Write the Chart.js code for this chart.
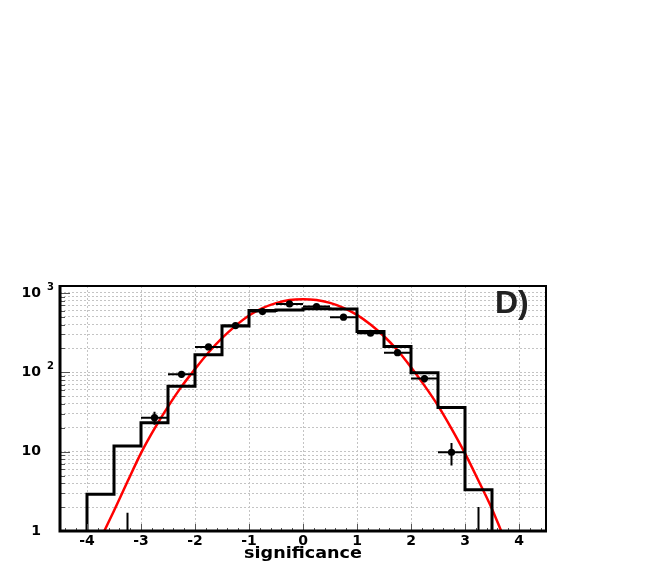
<!DOCTYPE html>
<html>
<head>
<meta charset="utf-8">
<script src="https://cdn.jsdelivr.net/npm/chart.js@4/dist/chart.umd.min.js"></script>
<style>
html, body { margin: 0; padding: 0; background: #fff; }
#wrap { width: 654px; height: 572px; }
</style>
</head>
<body>
<div id="wrap"><canvas id="c" width="654" height="572"></canvas></div>
<script>
// histogram: left bin edges + contents
const binEdges = [-4, -3.5, -3, -2.5, -2, -1.5, -1, -0.5, 0, 0.5, 1, 1.5, 2, 2.5, 3];
const binWidth = 0.5;
const histCounts = [2.9, 11.8, 23.2, 67, 166, 385, 600, 612, 635, 630, 326, 211, 99, 36, 3.3];

// data points (bin centres) with errors
const dataX = [-3.25, -2.75, -2.25, -1.75, -1.25, -0.75, -0.25, 0.25, 0.75, 1.25, 1.75, 2.25, 2.75, 3.25];
const dataY = [1, 26.8, 94.6, 209, 388, 583, 729, 674, 495, 311, 177, 83.3, 9.8, 1];
const dataErr = [0.7, 5, 9.5, 14, 20, 24, 27, 26, 22, 18, 13, 9, 3.1, 1.0];

// red fit curve
const fitX = [-3.68, -3.5, -3.25, -3, -2.75, -2.5, -2.25, -2, -1.75, -1.5, -1.25, -1, -0.75, -0.5, -0.25, 0,
              0.25, 0.5, 0.75, 1, 1.25, 1.5, 1.75, 2, 2.25, 2.5, 2.75, 3, 3.25, 3.5, 3.67];
const fitY = [1, 1.8, 4.2, 9.6, 19.5, 37, 66, 110, 178, 270, 385, 520, 645, 745, 815, 835,
              815, 750, 650, 530, 400, 285, 190, 116, 68, 38, 19.5, 9.5, 4.3, 1.9, 1];

const xTicks = [-4, -3, -2, -1, 0, 1, 2, 3, 4];
const yDecades = [1, 10, 100, 1000];
const yLabels = [['1', ''], ['10', ''], ['10', '2'], ['10', '3']];
const xTitle = 'significance';
const panelLabel = 'D)';

// step outline of the histogram
const histPts = [{x: binEdges[0], y: 1}]
    .concat(binEdges.map((e, i) => ({x: e, y: histCounts[i]})))
    .concat([{x: binEdges[binEdges.length - 1] + binWidth, y: histCounts[histCounts.length - 1]},
             {x: binEdges[binEdges.length - 1] + binWidth, y: 1}]);

const pts = dataX.map((x, i) => ({x: x, y: dataY[i], err: dataErr[i]}));
const fitPts = fitX.map((x, i) => ({x: x, y: fitY[i]}));

// grid values for the log axis (1..9 per decade)
const yGrid = [];
yDecades.slice(0, -1).forEach(d => { for (let m = 1; m < 10; m++) yGrid.push(d * m); });
yGrid.push(yDecades[yDecades.length - 1]);

const FONT = '"DejaVu Sans", sans-serif';

// ROOT-like frame, ticks, labels and error bars
const rootLook = {
    id: 'rootLook',
    afterDatasetDraw(chart, args) {
        if (args.index !== 1) return;
        const ctx = chart.ctx, xs = chart.scales.x, ys = chart.scales.y;
        const a = chart.chartArea;
        ctx.save();
        ctx.beginPath();
        ctx.rect(a.left, a.top, a.right - a.left, a.bottom - a.top);
        ctx.clip();
        ctx.strokeStyle = '#000';
        ctx.lineWidth = 2;
        pts.forEach(p => {
            const px = xs.getPixelForValue(p.x), py = ys.getPixelForValue(p.y);
            ctx.beginPath();
            ctx.moveTo(xs.getPixelForValue(p.x - binWidth / 2), py);
            ctx.lineTo(xs.getPixelForValue(p.x + binWidth / 2), py);
            const lo = p.y - p.err;
            ctx.moveTo(px, lo > 0 ? ys.getPixelForValue(lo) : a.bottom);
            ctx.lineTo(px, ys.getPixelForValue(p.y + p.err));
            ctx.stroke();
        });
        ctx.restore();
    },
    afterDraw(chart) {
        const ctx = chart.ctx, xs = chart.scales.x, ys = chart.scales.y;
        const a = chart.chartArea;
        ctx.save();
        ctx.strokeStyle = '#000';
        ctx.fillStyle = '#000';

        // ticks on x (inside, from the bottom)
        ctx.lineWidth = 1;
        ctx.beginPath();
        for (let v = -44; v <= 44; v += 2) {
            const px = Math.round(xs.getPixelForValue(v / 10)) + 0.5;
            const len = v % 10 === 0 ? 7 : 3;
            ctx.moveTo(px, a.bottom);
            ctx.lineTo(px, a.bottom - len);
        }
        // ticks on y (inside, from the left)
        yGrid.forEach(v => {
            const py = Math.round(ys.getPixelForValue(v)) + 0.5;
            const len = yDecades.includes(v) ? 10 : 5;
            ctx.moveTo(a.left, py);
            ctx.lineTo(a.left + len, py);
        });
        ctx.strokeStyle = '#555';
        ctx.stroke();

        // frame
        ctx.strokeStyle = '#000';
        ctx.lineWidth = 2;
        ctx.strokeRect(a.left, a.top, a.right - a.left, a.bottom - a.top);
        ctx.lineWidth = 3;
        ctx.beginPath();
        ctx.moveTo(a.left, a.top - 1);
        ctx.lineTo(a.left, a.bottom);
        ctx.lineTo(a.right + 1, a.bottom);
        ctx.stroke();

        // x tick labels
        ctx.font = 'bold 14px ' + FONT;
        ctx.textAlign = 'center';
        ctx.textBaseline = 'middle';
        xTicks.forEach(v => ctx.fillText(String(v), xs.getPixelForValue(v), a.bottom + 10));

        // y tick labels with exponents
        yDecades.forEach((v, i) => {
            const py = ys.getPixelForValue(v);
            ctx.font = 'bold 14px ' + FONT;
            ctx.textAlign = 'right';
            ctx.textBaseline = 'middle';
            ctx.fillText(yLabels[i][0], 41, py);
            if (yLabels[i][1]) {
                ctx.font = 'bold 10px ' + FONT;
                ctx.textAlign = 'left';
                ctx.textBaseline = 'alphabetic';
                ctx.fillText(yLabels[i][1], 47, py - 3);
            }
        });

        // axis title (ROOT's font is a bit wider)
        ctx.save();
        ctx.translate((a.left + a.right) / 2, 557.5);
        ctx.scale(1.1, 1);
        ctx.font = 'bold 16px ' + FONT;
        ctx.textAlign = 'center';
        ctx.textBaseline = 'alphabetic';
        ctx.fillText(xTitle, 0, 0);
        ctx.restore();

        // panel label
        ctx.fillStyle = '#222';
        ctx.font = 'bold 32px "Liberation Sans", sans-serif';
        ctx.textAlign = 'left';
        ctx.fillText(panelLabel, 495, 313);
        ctx.restore();
    }
};

const gridOpts = { color: '#c4c4c4', lineWidth: 1, drawTicks: false };

new Chart(document.getElementById('c'), {
    type: 'scatter',
    data: {
        datasets: [
            {
                data: histPts, showLine: true, stepped: 'before',
                borderColor: '#000', borderWidth: 3, pointRadius: 0, fill: false
            },
            {
                data: pts, showLine: false,
                pointRadius: c => (c.raw && c.raw.y <= 1 ? 0 : 3.6),
                pointBackgroundColor: '#000', pointBorderColor: '#000', pointBorderWidth: 0
            },
            {
                data: fitPts, showLine: true, cubicInterpolationMode: 'monotone',
                borderColor: '#ff0000', borderWidth: 2.5, pointRadius: 0, fill: false
            }
        ]
    },
    options: {
        responsive: false,
        animation: false,
        layout: { padding: { left: 60, right: 108, top: 286, bottom: 41 } },
        plugins: { legend: { display: false }, tooltip: { enabled: false } },
        scales: {
            x: {
                type: 'linear', min: -4.5, max: 4.5,
                afterBuildTicks: s => { s.ticks = xTicks.map(v => ({value: v})); },
                ticks: { display: false },
                grid: gridOpts,
                border: { display: false, dash: [2, 2] }
            },
            y: {
                type: 'logarithmic', min: 1, max: 1225,
                afterBuildTicks: s => { s.ticks = yGrid.map(v => ({value: v})); },
                ticks: { display: false },
                grid: gridOpts,
                border: { display: false, dash: [2, 2] }
            }
        }
    },
    plugins: [rootLook]
});
</script>
</body>
</html>
